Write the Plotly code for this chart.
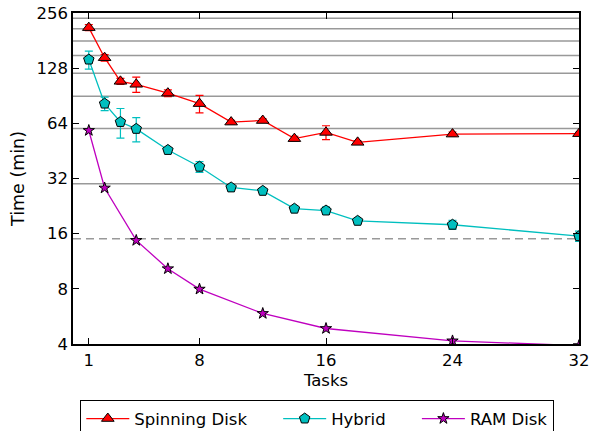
import plotly.graph_objects as go
import math

tasks = [1, 2, 3, 4, 6, 8, 10, 12, 14, 16, 18, 24, 32]
spinning = [213, 146, 108.5, 104.5, 93.5, 82, 65, 66.3, 52.8, 57.1, 50.4, 55.9, 56.2]
spinning_err = [8, 6, 4, 10, 4, 9, 1.5, 1.5, 1.5, 5, 1, 1.5, 1]
hybrid = [142.6, 82, 65.1, 59.7, 45.8, 37.1, 28.6, 27.4, 21.9, 21.4, 18.8, 17.9, 15.5]
hybrid_err = [16, 7, 12, 9, 1.2, 2.5, 0.5, 0.5, 0.5, 1, 0.4, 1, 1]
ram_tasks = [1, 2, 4, 6, 8, 12, 16, 24, 32]
ram = [58.5, 28.4, 14.7, 10.3, 7.97, 5.87, 4.86, 4.16, 3.92]

series_names = ["Spinning Disk", "Hybrid", "RAM Disk"]
grid_vals = [30, 60, 90, 120, 150, 180, 210, 240]
dashed_val = 15
yticks = [4, 8, 16, 32, 64, 128, 256]
xticks = [1, 8, 16, 24, 32]

FONT = "DejaVu Sans"
FS = 16.5
NB = "\u00a0"

fig = go.Figure()

for g in grid_vals:
    fig.add_shape(type="line", xref="paper", x0=0, x1=1, yref="y", y0=g, y1=g,
                  line=dict(color="#999999", width=1.5), layer="below")
fig.add_shape(type="line", xref="paper", x0=0, x1=1, yref="y", y0=dashed_val, y1=dashed_val,
              line=dict(color="#999999", width=1.5, dash="8px,5px"), layer="below")

fig.add_trace(go.Scatter(
    x=tasks, y=spinning, name=series_names[0] + NB * 5, mode="lines+markers",
    line=dict(color="#ff0000", width=1.3),
    marker=dict(symbol="triangle-up", size=11, color="#ff0000", line=dict(color="black", width=1)),
    error_y=dict(type="data", array=spinning_err, color="#ff0000", thickness=1.2, width=4),
))
fig.add_trace(go.Scatter(
    x=tasks, y=hybrid, name=series_names[1] + NB * 5, mode="lines+markers",
    line=dict(color="#00bfbf", width=1.3),
    marker=dict(symbol="pentagon", size=11, color="#00bfbf", line=dict(color="black", width=1)),
    error_y=dict(type="data", array=hybrid_err, color="#00bfbf", thickness=1.2, width=4),
))
fig.add_trace(go.Scatter(
    x=ram_tasks, y=ram, name=series_names[2], mode="lines+markers",
    line=dict(color="#bf00bf", width=1.3),
    marker=dict(symbol="star", size=8.5, color="#bf00bf", line=dict(color="black", width=1)),
))

axis_common = dict(showline=True, linecolor="black", linewidth=1.5, mirror="ticks",
                   ticks="inside", ticklen=6, tickwidth=1, tickcolor="black",
                   showgrid=False, zeroline=False, automargin=False,
                   ticklabeloverflow="allow",
                   tickfont=dict(family=FONT, size=FS, color="black"))

fig.update_xaxes(range=[0, 32], tickvals=xticks, ticktext=[str(v) for v in xticks],
                 title=dict(text="Tasks", font=dict(family=FONT, size=FS, color="black"), standoff=6),
                 **axis_common)
fig.update_yaxes(type="log", range=[math.log10(4), math.log10(256)], tickvals=yticks,
                 ticktext=[str(v) for v in yticks],
                 title=dict(text="Time (min)", font=dict(family=FONT, size=17.5, color="black"), standoff=7),
                 **axis_common)

W, H = 597, 431
fig.update_layout(
    width=W, height=H,
    margin=dict(l=73, r=18, t=13, b=87),
    paper_bgcolor="white", plot_bgcolor="white",
    font=dict(family=FONT, size=FS, color="black"),
    legend=dict(orientation="h", xref="container", yref="container",
                x=80 / W, y=1 - 400 / H, xanchor="left", yanchor="top",
                bordercolor="black", borderwidth=1.3, bgcolor="white",
                font=dict(family=FONT, size=FS, color="black"),
                itemwidth=43),
    showlegend=True,
)

fig.write_html("out.html", config={"displayModeBar": False},
               post_script="document.body.style.margin='0px';document.body.style.overflow='hidden';")
